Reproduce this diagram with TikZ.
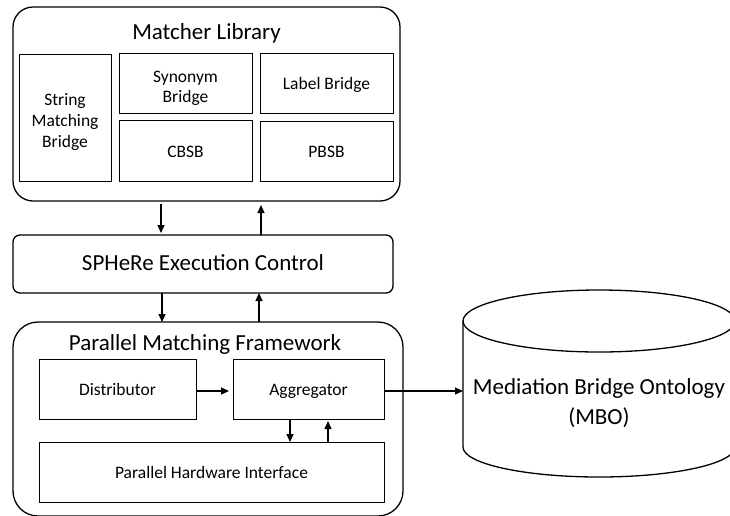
\documentclass[tikz,border=0pt]{standalone}
\usepackage{fontspec}
\setmainfont{Carlito}
\usetikzlibrary{arrows.meta}
\tikzset{
  outerbox/.style={draw, line width=1.3pt, inner sep=0pt, outer sep=0pt},
  innerbox/.style={draw, line width=1pt, inner sep=0pt, outer sep=0pt, align=center,
    font=\fontsize{17.5}{21}\selectfont},
  oneline/.style={text height=1.36em, text depth=0em},
  titletext/.style={inner sep=0pt, font=\fontsize{23}{27}\selectfont, text height=0.9em, text depth=0.02em},
  arr/.style={-{Triangle[length=8pt,width=7pt]}, line width=1.2pt},
}
\begin{document}
\begin{tikzpicture}[x=1pt,y=-1pt]
\useasboundingbox (0,0) rectangle (730,515);
% Matcher Library
\node[outerbox, rounded corners=20pt, minimum width=387pt, minimum height=194pt] (ml) at (206.5,104) {};
\node[titletext] (mltitle) at (206.5,35.5) {Matcher Library};
\node[innerbox, minimum width=92pt, minimum height=127pt] (smb) at (65,117.5) {\rule{0pt}{21pt}String\\Matching\\Bridge};
\node[innerbox, minimum width=133pt, minimum height=60pt, font=\fontsize{17.5}{20.5}\selectfont] (syn) at (185.5,83) {\rule{0pt}{22pt}Synonym\\Bridge};
\node[innerbox, oneline, minimum width=133pt, minimum height=60pt] (lab) at (326.5,83) {Label Bridge};
\node[innerbox, oneline, minimum width=133pt, minimum height=61pt] (cbsb) at (185.5,150.5) {CBSB};
\node[innerbox, oneline, minimum width=133pt, minimum height=60pt] (pbsb) at (326.5,151) {PBSB};
% Execution control
\node[outerbox, rounded corners=7pt, minimum width=380pt, minimum height=58pt, font=\fontsize{23}{27}\selectfont, text height=1.25em, text depth=0em] (ctl) at (203,264) {SPHeRe Execution Control};
% Parallel Matching Framework
\node[outerbox, rounded corners=25pt, minimum width=390pt, minimum height=194pt] (pmf) at (208,419) {};
\node[titletext] (pmftitle) at (205,346) {Parallel Matching Framework};
\node[innerbox, oneline, minimum width=157pt, minimum height=60pt] (dist) at (117.5,389) {Distributor};
\node[innerbox, oneline, minimum width=151pt, minimum height=60pt] (agg) at (308.5,389) {Aggregator};
\node[innerbox, oneline, minimum width=345pt, minimum height=60pt] (phi) at (211.5,472) {Parallel Hardware Interface};
% MBO cylinder
\node[inner sep=0pt, outer sep=0pt, minimum width=272pt, align=center,
  font=\fontsize{23}{30}\selectfont] (mbo) at (599,403) {Mediation Bridge Ontology\\(MBO)};
\draw[line width=1.3pt] (599,321) ellipse [x radius=136pt, y radius=31pt];
\draw[line width=1.3pt] (463,321) -- (463,447) arc[start angle=180, end angle=360, x radius=136pt, y radius=30pt] -- (735,321);
% connector positions
\coordinate (c1) at (161,0);
\coordinate (c2) at (261,0);
\coordinate (c3) at (162,0);
\coordinate (c4) at (259,0);
\coordinate (c5) at (290,0);
\coordinate (c6) at (328,0);
\coordinate (c7) at (0,391);
\coordinate (mboin) at (463,391);
% connectors
\draw[arr, shorten <=3pt, shorten >=2pt] (ml.south -| c1) -- (ctl.north -| c1);
\draw[arr, shorten >=4pt] (ctl.north -| c2) -- (ml.south -| c2);
\draw[arr] (ctl.south -| c3) -- (pmf.north -| c3);
\draw[arr] (pmf.north -| c4) -- (ctl.south -| c4);
\draw[arr, shorten >=4pt] (dist.east |- c7) -- (agg.west |- c7);
\draw[arr] (agg.south -| c5) -- (phi.north -| c5);
\draw[arr, shorten >=2pt] (phi.north -| c6) -- (agg.south -| c6);
\draw[arr] (agg.east |- c7) -- (mboin);
\end{tikzpicture}
\end{document}
